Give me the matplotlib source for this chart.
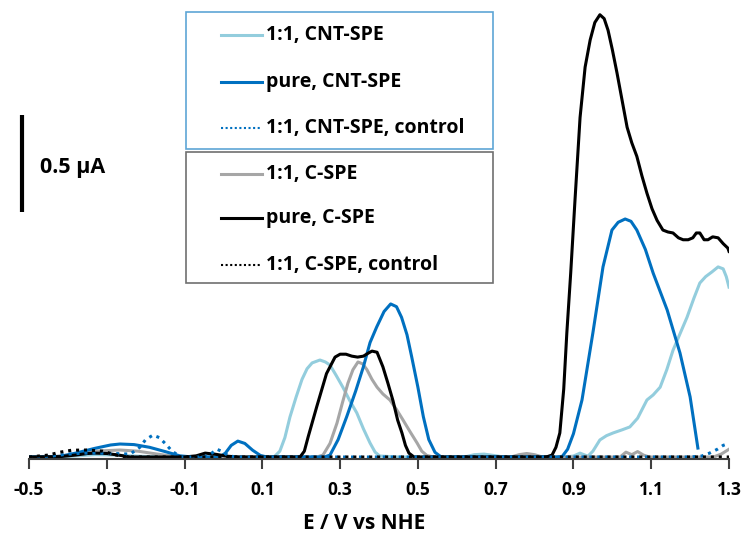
import matplotlib
matplotlib.use('Agg')
import matplotlib.pyplot as plt
from matplotlib.lines import Line2D
from matplotlib.patches import Rectangle

plt.rcParams['font.family'] = ['Open Sans', 'DejaVu Sans']

# Potencial (V vs NHE) e corrente (uA)
E_lb = [-0.5, -0.40, -0.33, -0.28, -0.22, -0.15, 0.10, 0.130, 0.145, 0.158, 0.171, 0.187,
        0.202, 0.215, 0.228, 0.248, 0.262, 0.274, 0.290, 0.307, 0.325, 0.343, 0.360, 0.377,
        0.390, 0.402, 0.45, 0.62, 0.645, 0.67, 0.695, 0.72, 0.88, 0.90, 0.917, 0.937, 0.950,
        0.968, 0.985, 1.002, 1.025, 1.045, 1.065, 1.089, 1.105, 1.123, 1.140, 1.156, 1.175,
        1.192, 1.210, 1.225, 1.240, 1.256, 1.272, 1.285, 1.293, 1.30]
I_lb = [0, 0.003, 0.012, 0.01, 0.004, 0, 0, 0, 0.03, 0.10, 0.206, 0.31,
        0.40, 0.455, 0.485, 0.50, 0.49, 0.474, 0.42, 0.36, 0.29, 0.227, 0.145, 0.072,
        0.025, 0.005, 0, 0, 0.012, 0.015, 0.008, 0, 0, 0.005, 0.02, 0.004, 0.03,
        0.088, 0.11, 0.124, 0.14, 0.155, 0.20, 0.294, 0.32, 0.36, 0.45, 0.55, 0.64,
        0.72, 0.82, 0.897, 0.93, 0.954, 0.98, 0.97, 0.93, 0.876]

E_b = [-0.5, -0.42, -0.38, -0.33, -0.29, -0.266, -0.23, -0.19, -0.15, -0.112, -0.08,
       -0.01, 0.005, 0.02, 0.037, 0.055, 0.075, 0.095, 0.112, 0.26, 0.274, 0.295, 0.317,
       0.340, 0.360, 0.377, 0.394, 0.413, 0.430, 0.445, 0.458, 0.472, 0.484, 0.50, 0.514,
       0.528, 0.544, 0.56, 0.87, 0.885, 0.900, 0.922, 0.950, 0.976, 0.999, 1.015, 1.033,
       1.048, 1.063, 1.085, 1.105, 1.141, 1.174, 1.200, 1.220]
I_b = [0, 0.003, 0.02, 0.045, 0.062, 0.067, 0.064, 0.05, 0.028, 0.006, 0,
       0, 0.02, 0.06, 0.082, 0.07, 0.035, 0.008, 0, 0, 0.01, 0.09, 0.208,
       0.34, 0.466, 0.59, 0.67, 0.75, 0.789, 0.775, 0.72, 0.63, 0.517, 0.36, 0.208,
       0.09, 0.024, 0, 0, 0.04, 0.12, 0.294, 0.64, 0.98, 1.17, 1.21, 1.227,
       1.215, 1.17, 1.07, 0.948, 0.758, 0.536, 0.31, 0.046]

E_g = [-0.5, -0.43, -0.38, -0.33, -0.266, -0.22, -0.17, -0.13, -0.10, 0.24, 0.256, 0.274,
       0.292, 0.306, 0.320, 0.333, 0.346, 0.358, 0.369, 0.382, 0.395, 0.410, 0.428, 0.445,
       0.462, 0.480, 0.498, 0.510, 0.523, 0.54, 0.74, 0.76, 0.78, 0.80, 0.82, 1.02, 1.035,
       1.05, 1.065, 1.08, 1.095, 1.26, 1.28, 1.30]
I_g = [0, 0.003, 0.015, 0.03, 0.036, 0.03, 0.015, 0.004, 0, 0, 0.01, 0.07,
       0.175, 0.28, 0.38, 0.45, 0.49, 0.48, 0.45, 0.40, 0.36, 0.325, 0.294, 0.245,
       0.19, 0.13, 0.072, 0.03, 0.008, 0, 0, 0.012, 0.018, 0.012, 0, 0, 0.025,
       0.012, 0.028, 0.01, 0, 0, 0.015, 0.04]

E_k = [-0.5, -0.42, -0.38, -0.35, -0.33, -0.30, -0.27, -0.24, -0.10, -0.07, -0.047, -0.02,
       0.01, 0.04, 0.197, 0.208, 0.218, 0.240, 0.265, 0.287, 0.300, 0.315, 0.330, 0.345,
       0.360, 0.372, 0.382, 0.395, 0.410, 0.423, 0.436, 0.448, 0.459, 0.468, 0.477, 0.49,
       0.83, 0.845, 0.855, 0.865, 0.875, 0.883, 0.893, 0.904, 0.917, 0.930, 0.943, 0.955,
       0.968, 0.979, 0.989, 1.000, 1.012, 1.025, 1.038, 1.050, 1.063, 1.076, 1.089, 1.102,
       1.115, 1.130, 1.143, 1.156, 1.170, 1.182, 1.195, 1.207, 1.216, 1.225, 1.236, 1.246,
       1.258, 1.272, 1.285, 1.297, 1.30]
I_k = [0, 0.002, 0.01, 0.018, 0.02, 0.018, 0.01, 0, 0, 0.006, 0.02, 0.014,
       0.004, 0, 0, 0.03, 0.105, 0.26, 0.43, 0.515, 0.53, 0.53, 0.52, 0.515,
       0.52, 0.535, 0.546, 0.54, 0.465, 0.38, 0.29, 0.19, 0.124, 0.06, 0.02, 0,
       0, 0.01, 0.05, 0.124, 0.35, 0.64, 0.95, 1.325, 1.75, 2.01, 2.15, 2.24,
       2.28, 2.26, 2.20, 2.10, 1.98, 1.84, 1.70, 1.62, 1.55, 1.45, 1.36, 1.28,
       1.22, 1.17, 1.16, 1.155, 1.13, 1.12, 1.12, 1.13, 1.155, 1.155, 1.12, 1.12,
       1.135, 1.13, 1.10, 1.077, 1.06]

E_bd = [-0.5, -0.44, -0.40, -0.36, -0.32, -0.28, -0.24, -0.215, -0.20, -0.181, -0.165,
        -0.15, -0.132, -0.11, -0.05, -0.03, -0.017, -0.005, 0.01, 0.03, 1.20, 1.23,
        1.25, 1.27, 1.285, 1.30]
I_bd = [0, 0.005, 0.015, 0.02, 0.02, 0.018, 0.015, 0.05, 0.09, 0.113, 0.10,
        0.07, 0.03, 0, 0, 0.02, 0.04, 0.03, 0.01, 0, 0, 0.005,
        0.02, 0.04, 0.06, 0.07]

E_kd = [-0.5, -0.45, -0.42, -0.39, -0.35, -0.31, -0.28, -0.25, 1.30]
I_kd = [0, 0.01, 0.025, 0.035, 0.036, 0.03, 0.012, 0, 0]

xticks = [-0.5, -0.3, -0.1, 0.1, 0.3, 0.5, 0.7, 0.9, 1.1, 1.3]

c_lb = '#93CDDD'
c_b = '#0070C0'
c_g = '#A6A6A6'
c_k = '#000000'

W, H = 742, 543
fig = plt.figure(figsize=(W / 100, H / 100), dpi=100)
ax = fig.add_axes([29 / W, 84 / H, 700 / W, 459 / H])

lw = 2.2
ax.plot(E_lb, I_lb, color=c_lb, lw=lw)
ax.plot(E_g, I_g, color=c_g, lw=lw)
ax.plot(E_b, I_b, color=c_b, lw=lw)
ax.plot(E_k, I_k, color=c_k, lw=lw)
ax.plot(E_bd, I_bd, color=c_b, lw=2.2, ls=(0, (1, 1.6)))
ax.plot(E_kd, I_kd, color=c_k, lw=2.2, ls=(0, (1, 1.6)))

ax.set_xlim(-0.5, 1.3)
ax.set_ylim(-0.0103, 2.356)
for s in ['top', 'right', 'left']:
    ax.spines[s].set_visible(False)
ax.spines['bottom'].set_color('#404040')
ax.spines['bottom'].set_linewidth(1.5)
ax.set_yticks([])
ax.set_xticks(xticks)
ax.set_xticklabels([f'{t:.1f}' for t in xticks], fontsize=12.5, fontweight='bold')
ax.tick_params(axis='x', direction='out', length=7, width=1.5, color='#404040', pad=9)
ax.set_xlabel('E / V vs NHE', fontsize=15, fontweight='bold')
ax.xaxis.set_label_coords((364 - 29) / 700, -0.118)

# barra de escala
ax.plot([-0.518, -0.518], [1.263, 1.763], color='black', lw=3, clip_on=False,
        solid_capstyle='butt')
ax.text(-0.472, 1.495, '0.5 \u00b5A', fontsize=15.5, fontweight='bold', va='center', ha='left')


def fx(px):
    return px / W


def fy(py):
    return 1 - py / H


# legendas desenhadas à mão
fig.add_artist(Rectangle((fx(186), fy(149)), fx(493) - fx(186), fy(12) - fy(149),
                         transform=fig.transFigure, fill=False, ec='#5DA5D5', lw=1.2))
fig.add_artist(Rectangle((fx(186), fy(283)), fx(493) - fx(186), fy(152) - fy(283),
                         transform=fig.transFigure, fill=False, ec='#707070', lw=1.2))

entradas = [
    ('1:1, CNT-SPE', c_lb, '-', 35),
    ('pure, CNT-SPE', c_b, '-', 82),
    ('1:1, CNT-SPE, control', c_b, ':', 128),
    ('1:1, C-SPE', c_g, '-', 174),
    ('pure, C-SPE', c_k, '-', 218),
    ('1:1, C-SPE, control', c_k, ':', 265),
]
for label, cor, estilo, py in entradas:
    ls = (0, (1, 1.2)) if estilo == ':' else '-'
    lwh = 1.5 if estilo == ':' else 2.2
    fig.add_artist(Line2D([fx(221), fx(262)], [fy(py), fy(py)], color=cor, lw=lwh, ls=ls,
                          transform=fig.transFigure))
    fig.text(fx(266), fy(py), label, fontsize=14, fontweight='bold', va='center', ha='left')

plt.savefig('out.png', dpi=100)
plt.close()
